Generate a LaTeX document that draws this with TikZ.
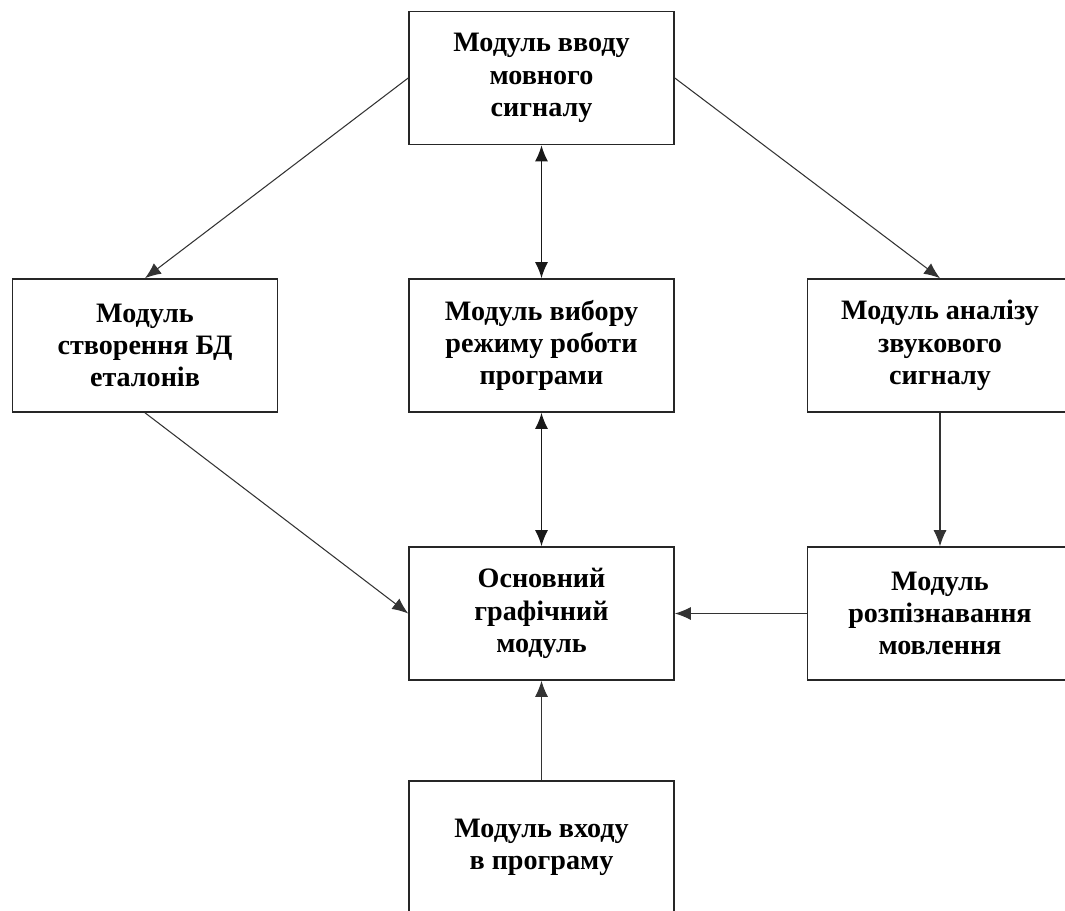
\documentclass[tikz,border=0pt]{standalone}
\usepackage{fontspec}
\setmainfont{Liberation Serif}
\usetikzlibrary{arrows.meta,positioning}

\begin{document}
\begin{tikzpicture}[
  font=\fontsize{16}{18.4}\selectfont\bfseries,
  >={Latex[length=3.2mm,width=2.6mm]},
  module/.style={rectangle, draw=black!85, line width=0.9pt, minimum width=5.3cm,
                 minimum height=2.66cm, align=center, inner sep=0pt},
  link/.style={->, draw=black!80, line width=0.6pt},
  duplex/.style={<->, draw=black!90, line width=0.9pt},
]
\useasboundingbox (0,0) rectangle (21.3,18.2);

% Modules
\node[module] (input) at (10.83,16.64) {Модуль вводу\\мовного\\сигналу};
\node[module] (db) at (2.9,11.29) {Модуль\\створення БД\\еталонів};
\node[module] (mode) at (10.83,11.29) {Модуль вибору\\режиму роботи\\програми};
\node[module] (analysis) at (18.8,11.29) {Модуль аналізу\\звукового\\сигналу};
\node[module] (main) at (10.83,5.93) {Основний\\графічний\\модуль};
\node[module] (recog) at (18.8,5.93) {Модуль\\розпізнавання\\мовлення};
\node[module] (entry) at (10.83,1.25) {Модуль входу\\в програму};

% Connections
\draw[link] (input.west) -- (db.north);
\draw[link] (input.east) -- (analysis.north);
\draw[duplex] (input) -- (mode);
\draw[duplex] (mode) -- (main);
\draw[link] (db.south) -- (main.west);
\draw[link] (analysis) -- (recog);
\draw[link] (recog) -- (main);
\draw[link] (entry) -- (main);

\end{tikzpicture}
\end{document}
